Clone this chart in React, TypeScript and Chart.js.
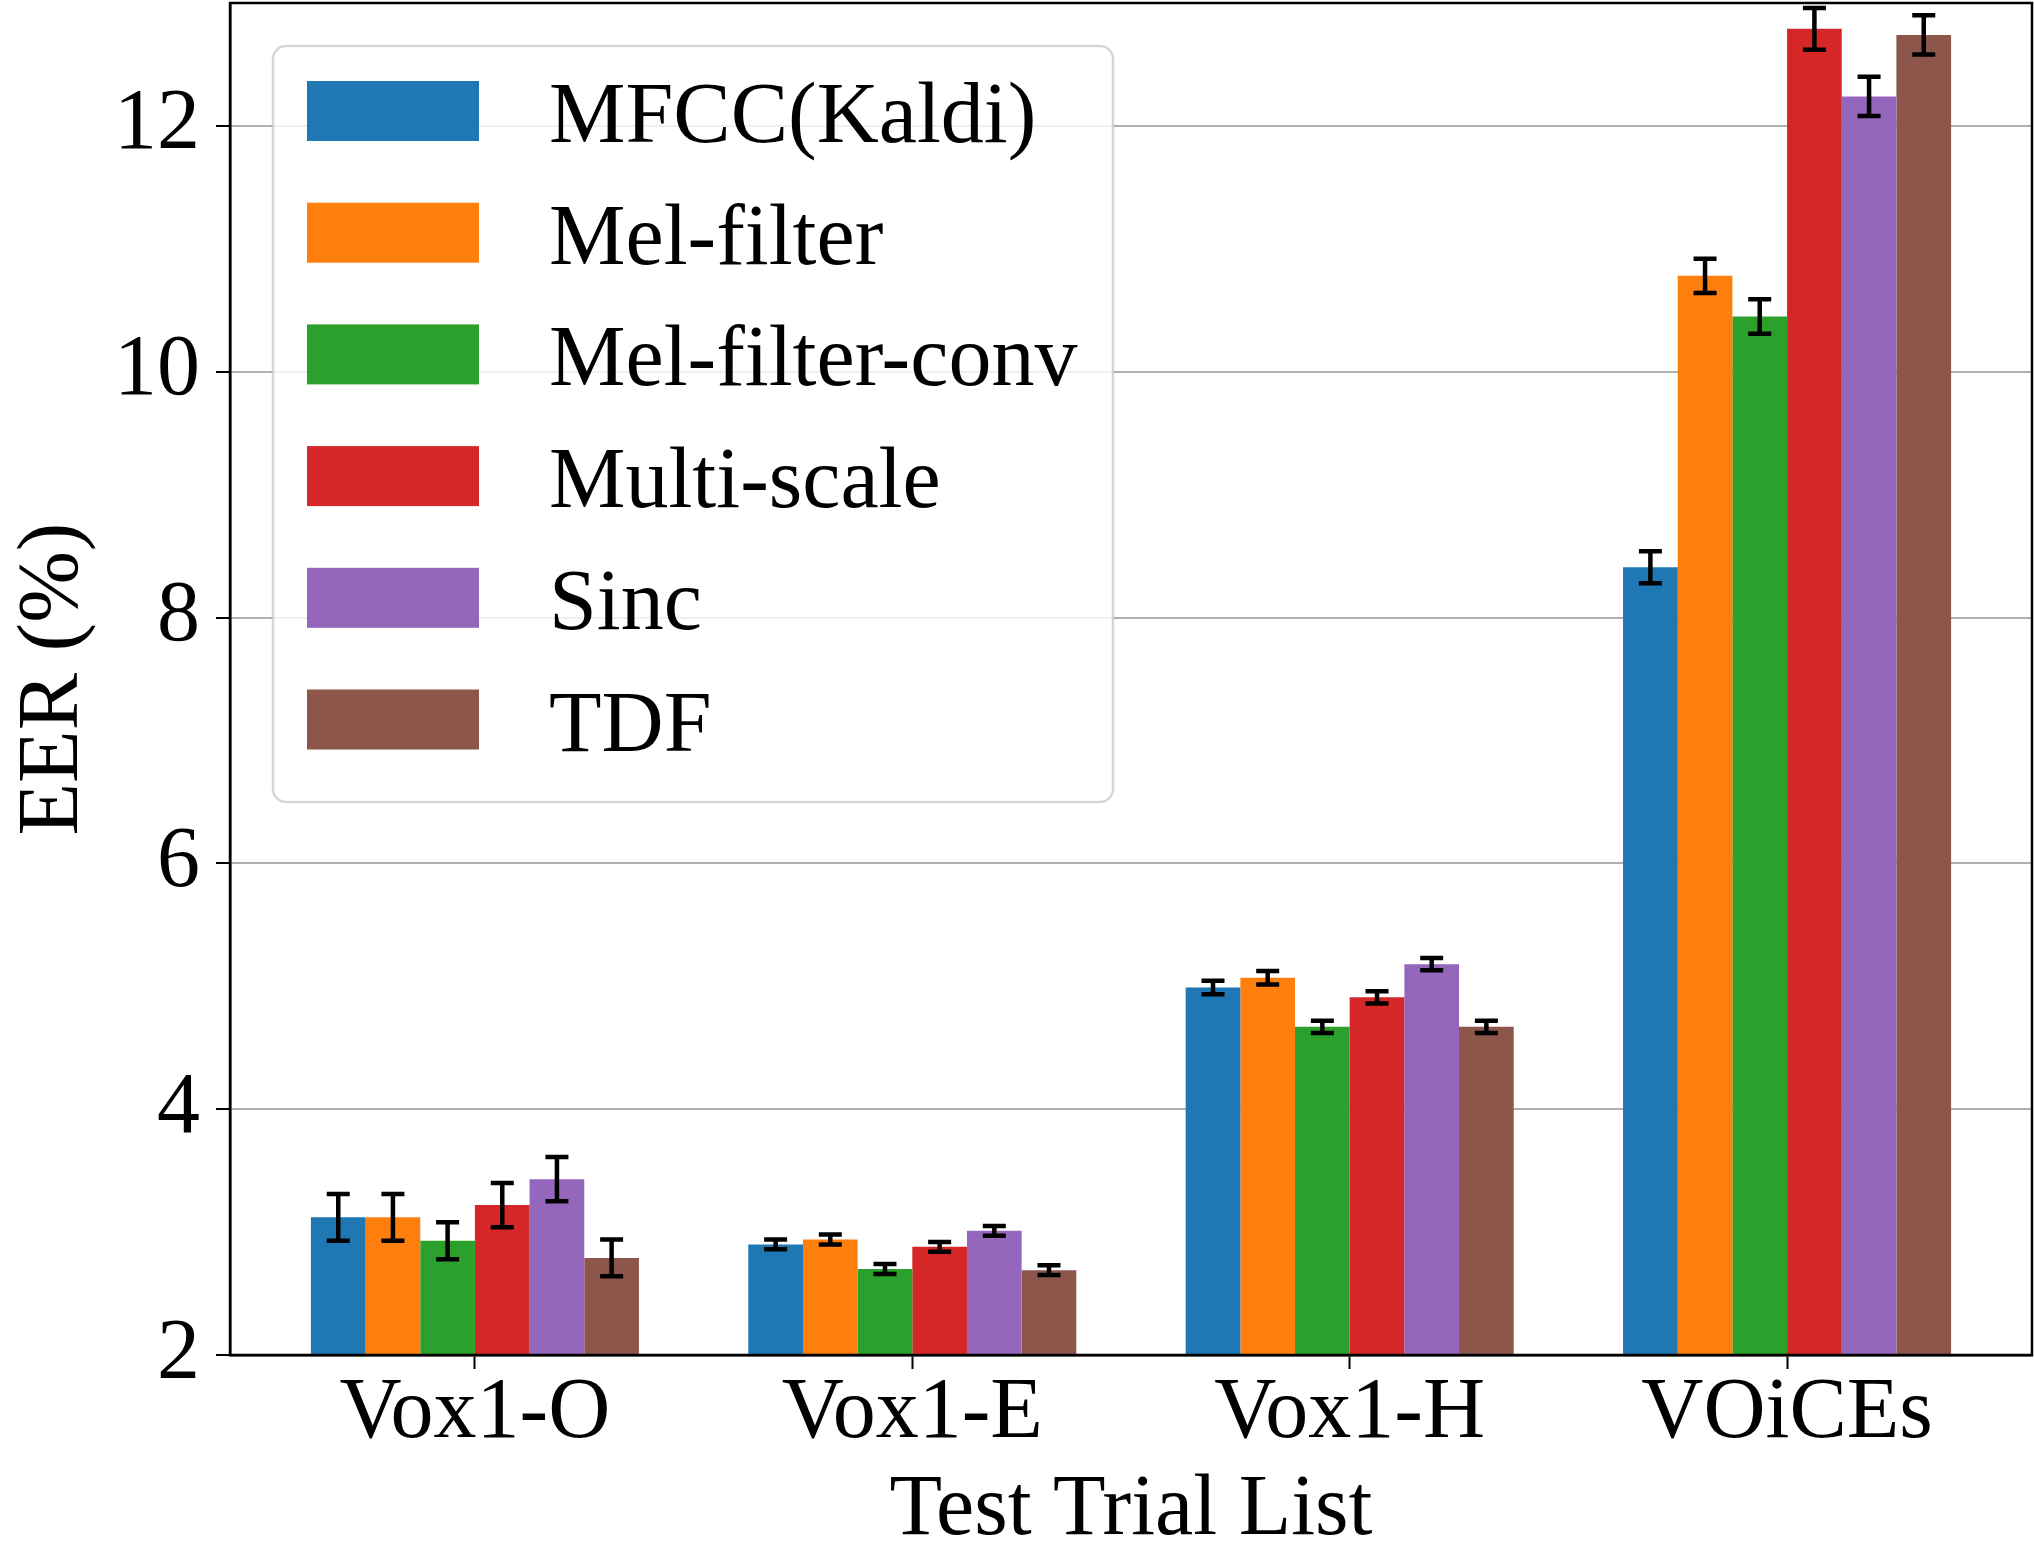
import React, { useEffect, useRef } from "react";
import { Chart, registerables } from "chart.js";

Chart.register(...registerables);

const categories = ["Vox1-O", "Vox1-E", "Vox1-H", "VOiCEs"];
const seriesNames = ["MFCC(Kaldi)", "Mel-filter", "Mel-filter-conv", "Multi-scale", "Sinc", "TDF"];
const seriesColors = ["#1f77b4", "#ff7f0e", "#2ca02c", "#d62728", "#9467bd", "#8c564b"];

const mfccKaldi = [3.12, 2.9, 4.99, 8.41];
const mfccKaldiErr = [0.19, 0.04, 0.055, 0.13];
const melFilter = [3.12, 2.94, 5.07, 10.78];
const melFilterErr = [0.19, 0.04, 0.055, 0.14];
const melFilterConv = [2.93, 2.7, 4.67, 10.45];
const melFilterConvErr = [0.15, 0.04, 0.05, 0.14];
const multiScale = [3.22, 2.88, 4.91, 12.79];
const multiScaleErr = [0.18, 0.04, 0.05, 0.17];
const sinc = [3.43, 3.01, 5.18, 12.24];
const sincErr = [0.18, 0.04, 0.05, 0.16];
const tdf = [2.79, 2.69, 4.67, 12.74];
const tdfErr = [0.15, 0.04, 0.05, 0.16];

const yTicks = [2, 4, 6, 8, 10, 12];

const seriesValues = [mfccKaldi, melFilter, melFilterConv, multiScale, sinc, tdf];
const seriesErrors = [mfccKaldiErr, melFilterErr, melFilterConvErr, multiScaleErr, sincErr, tdfErr];

const FONT = "'Liberation Serif', 'Times New Roman', serif";

const errorBarPlugin = {
  id: "errorBars",
  afterDatasetsDraw(chart: any) {
    const ctx = chart.ctx;
    const y = chart.scales.y;
    ctx.save();
    ctx.strokeStyle = "#000";
    ctx.lineWidth = 4.5;
    ctx.lineCap = "butt";
    chart.data.datasets.forEach((ds: any, i: number) => {
      const meta = chart.getDatasetMeta(i);
      const errs = seriesErrors[i];
      meta.data.forEach((el: any, j: number) => {
        const v = seriesValues[i][j];
        const e = errs[j];
        const yt = y.getPixelForValue(v + e);
        const yb = y.getPixelForValue(v - e);
        const x = el.x;
        const cap = 11.5;
        ctx.beginPath();
        ctx.moveTo(x, yt);
        ctx.lineTo(x, yb);
        ctx.moveTo(x - cap, yt);
        ctx.lineTo(x + cap, yt);
        ctx.moveTo(x - cap, yb);
        ctx.lineTo(x + cap, yb);
        ctx.stroke();
      });
    });
    ctx.restore();
  },
};

const framePlugin = {
  id: "frameAndLegend",
  afterDraw(chart: any) {
    const ctx = chart.ctx;
    const a = chart.chartArea;
    ctx.save();
    // spines
    ctx.strokeStyle = "#000";
    ctx.lineWidth = 2.5;
    ctx.strokeRect(a.left, a.top, a.right - a.left, a.bottom - a.top);

    // legend
    const bx = 273, by = 46, bw = 840, bh = 756, r = 13;
    ctx.beginPath();
    ctx.moveTo(bx + r, by);
    ctx.lineTo(bx + bw - r, by);
    ctx.arcTo(bx + bw, by, bx + bw, by + r, r);
    ctx.lineTo(bx + bw, by + bh - r);
    ctx.arcTo(bx + bw, by + bh, bx + bw - r, by + bh, r);
    ctx.lineTo(bx + r, by + bh);
    ctx.arcTo(bx, by + bh, bx, by + bh - r, r);
    ctx.lineTo(bx, by + r);
    ctx.arcTo(bx, by, bx + r, by, r);
    ctx.closePath();
    ctx.fillStyle = "rgba(255,255,255,0.8)";
    ctx.fill();
    ctx.strokeStyle = "rgba(204,204,204,0.8)";
    ctx.lineWidth = 2.5;
    ctx.stroke();

    const rowH = 121.7;
    ctx.font = `86px ${FONT}`;
    ctx.textAlign = "left";
    ctx.textBaseline = "alphabetic";
    seriesNames.forEach((name, i) => {
      const py = 81 + i * rowH;
      ctx.fillStyle = seriesColors[i];
      ctx.fillRect(307, py, 172, 60);
      ctx.fillStyle = "#000";
      ctx.fillText(name, 549, py + 61);
    });
    ctx.restore();
  },
};

export default function App() {
  const ref = useRef<HTMLCanvasElement | null>(null);

  useEffect(() => {
    if (!ref.current) return;
    const datasets = seriesNames.map((name, i) => ({
      label: name,
      data: seriesValues[i].map((v, j) => ({ x: j, y: v })),
      backgroundColor: seriesColors[i],
      borderWidth: 0,
      categoryPercentage: 0.75,
      barPercentage: 1.0,
    }));

    const chart = new Chart(ref.current, {
      type: "bar",
      data: { datasets },
      options: {
        animation: false,
        responsive: false,
        devicePixelRatio: 1,
        layout: { padding: { top: 3, right: 2, left: 0, bottom: 0 } },
        plugins: {
          legend: { display: false },
          tooltip: { enabled: false },
        },
        scales: {
          x: {
            type: "linear",
            min: -0.56,
            max: 3.56,
            offset: false,
            afterBuildTicks: (scale: any) => {
              scale.ticks = categories.map((_, i) => ({ value: i }));
            },
            afterFit: (scale: any) => {
              scale.height = 187;
              scale.paddingLeft = 0;
              scale.paddingRight = 0;
            },
            ticks: {
              callback: (v: any) => categories[Math.round(Number(v))] ?? "",
              font: { family: FONT, size: 86, lineHeight: 1 },
              color: "#000",
              padding: 2,
              maxRotation: 0,
              autoSkip: false,
            },
            grid: {
              drawOnChartArea: false,
              drawTicks: true,
              tickLength: 14,
              tickColor: "#000",
              tickWidth: 2,
              offset: false,
            },
            border: { display: true, color: "#000", width: 2.5 },
            title: {
              display: true,
              text: "Test Trial List",
              font: { family: FONT, size: 86, lineHeight: 0.72 },
              color: "#000",
              padding: { top: 0, bottom: 0 },
            },
          },
          y: {
            type: "linear",
            min: 2,
            max: 13,
            z: 1,
            afterBuildTicks: (scale: any) => {
              scale.ticks = yTicks.map((v) => ({ value: v }));
            },
            afterFit: (scale: any) => {
              scale.width = 230;
              scale.paddingTop = 0;
              scale.paddingBottom = 0;
            },
            ticks: {
              font: { family: FONT, size: 86, lineHeight: 1 },
              color: "#000",
              padding: 16,
            },
            grid: {
              color: (c: any) => (c.tick && c.tick.value === 2 ? "rgba(0,0,0,0)" : "#b0b0b0"),
              lineWidth: 2,
              drawTicks: true,
              tickLength: 14,
              tickColor: "#000",
              tickWidth: 2,
            },
            border: { display: true, color: "#000", width: 2.5 },
            title: {
              display: true,
              text: "EER (%)",
              font: { family: FONT, size: 86, lineHeight: 1 },
              color: "#000",
              padding: { top: 11, bottom: 0 },
            },
          },
        },
      },
      plugins: [errorBarPlugin, framePlugin],
    } as any);

    return () => chart.destroy();
  }, []);

  return (
    <div style={{ position: "absolute", left: 0, top: 0, width: 2034, height: 1542 }}>
      <canvas ref={ref} width={2034} height={1542} style={{ display: "block" }} />
    </div>
  );
}
